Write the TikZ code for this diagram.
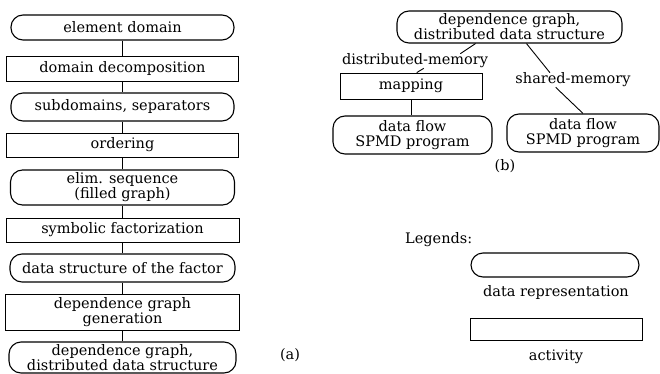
\documentclass[tikz,border=0pt]{standalone}
\usepackage{fontspec}
\setmainfont{DejaVu Serif}
\usetikzlibrary{calc}
\begin{document}
\begin{tikzpicture}[x=1pt,y=-1pt,
  every node/.style={font=\fontsize{14.5}{15}\selectfont, inner sep=0pt, align=center},
  datab/.style={draw, rounded corners=12pt, line width=1.1pt},
  actb/.style={draw, line width=0.8pt},
  conn/.style={line width=0.9pt}]
\useasboundingbox (0,0) rectangle (660,374);
% (a) left column
\node[datab, minimum width=223pt, minimum height=25pt] (a1) at (122.5,27.5) {element domain};
\node[actb,  minimum width=232pt, minimum height=25pt] (a2) at (122.5,68.5) {domain decomposition};
\node[datab, minimum width=223pt, minimum height=28pt] (a3) at (122.5,107) {subdomains, separators};
\node[actb,  minimum width=232pt, minimum height=24pt] (a4) at (122.5,145) {ordering};
\node[datab, minimum width=224pt, minimum height=35pt] (a5) at (122.5,187.5) {elim. sequence\\(filled graph)};
\node[actb,  minimum width=233pt, minimum height=24pt] (a6) at (122.5,230) {symbolic factorization};
\node[datab, minimum width=225pt, minimum height=28pt] (a7) at (122.5,268) {data structure of the factor};
\node[actb,  minimum width=234pt, minimum height=36pt] (a8) at (122.5,312) {dependence graph\\generation};
\node[datab, minimum width=227pt, minimum height=31pt] (a9) at (122.5,357.5) {dependence graph,\\distributed data structure};
\foreach \u/\v in {a1/a2,a2/a3,a3/a4,a4/a5,a5/a6,a6/a7,a7/a8,a8/a9}
  \draw[conn] (\u) -- (\v);
\node (la) at (290,355) {(a)};
% (b)
\node[datab, minimum width=225pt, minimum height=32pt] (b1) at (509.5,27) {dependence graph,\\distributed data structure};
\node (dm) at (415,61) {distributed-memory};
\node[actb, minimum width=142pt, minimum height=26pt] (map) at (411,86) {mapping};
\node[datab, minimum width=159pt, minimum height=38pt] (dfl) at (412.5,135) {data flow\\SPMD program};
\node (sm) at (573,80) {shared-memory};
\node[datab, minimum width=152pt, minimum height=38pt] (dfr) at (583,133) {data flow\\SPMD program};
\node (lb) at (505,166) {(b)};
\draw[conn] (b1.206) -- ($(dm.north)!0.62!(dm.north east)$);
\draw[conn] ($(dm.south)!0.12!(dm.south east)$) -- ($(map.north)!0.08!(map.north east)$);
\draw[conn] (map.south) -- (map.south |- dfl.north);
\draw[conn] ($(b1.south)!0.15!(b1.south east)$) -- ($(sm.north west)!0.3!(sm.north east)$);
\draw[conn] ($(sm.south west)!0.35!(sm.south east)$) -- (dfr.north);
% legends
\node[anchor=west] (lg) at (405,240) {Legends:};
\node[datab, minimum width=168pt, minimum height=24pt] (l1) at (555,265) {};
\node (l1t) at (556,292) {data representation};
\node[actb, minimum width=172pt, minimum height=22pt] (l2) at (556,329) {};
\node (l2t) at (556,357) {activity};
\end{tikzpicture}
\end{document}
